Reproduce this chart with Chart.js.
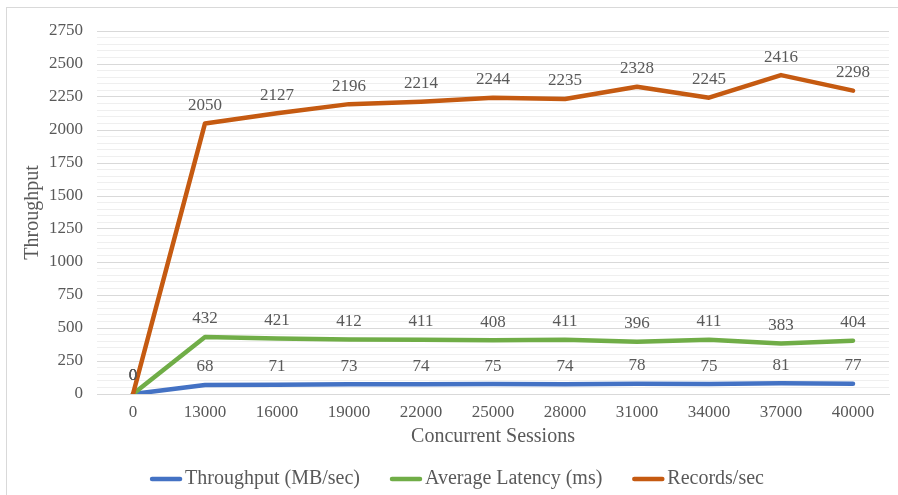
<!DOCTYPE html>
<html>
<head>
<meta charset="utf-8">
<script src="https://cdn.jsdelivr.net/npm/chart.js@4"></script>
<style>
  html, body { margin: 0; padding: 0; background: #fff; }
  #wrap { position: relative; width: 898px; height: 495px; }
  #frame { position: absolute; left: 6px; top: 7px; right: 0; bottom: 0;
           border-top: 1px solid #d9d9d9; border-left: 1px solid #d9d9d9; }
  canvas { position: absolute; left: 0; top: 0; }
</style>
</head>
<body>
<div id="wrap">
  <div id="frame"></div>
  <canvas id="chart" width="898" height="495"></canvas>
</div>
<script>
const sessions = ['0', '13000', '16000', '19000', '22000', '25000', '28000', '31000', '34000', '37000', '40000'];
const throughputMB = [0, 68, 71, 73, 74, 75, 74, 78, 75, 81, 77];
const avgLatency = [0, 432, 421, 412, 411, 408, 411, 396, 411, 383, 404];
const recordsPerSec = [0, 2050, 2127, 2196, 2214, 2244, 2235, 2328, 2245, 2416, 2298];

const FONT = "'Liberation Serif', 'Times New Roman', serif";
const TEXT = '#595959';

// value labels above every point
const pointLabels = {
    id: 'pointLabels',
    afterDatasetsDraw(chart) {
        const ctx = chart.ctx;
        ctx.save();
        ctx.font = '17px ' + FONT;
        ctx.fillStyle = TEXT;
        ctx.textAlign = 'center';
        ctx.textBaseline = 'middle';
        chart.data.datasets.forEach((ds, i) => {
            chart.getDatasetMeta(i).data.forEach((pt, j) => {
                ctx.fillText(String(ds.data[j]), pt.x, pt.y - 18);
            });
        });
        ctx.restore();
    }
};

// legend drawn like the Excel one: long line sample, text right next to it
const lineLegend = {
    id: 'lineLegend',
    afterDraw(chart) {
        const ctx = chart.ctx;
        const sample = 32, gap = 3, spacing = 30;
        ctx.save();
        ctx.font = '20px ' + FONT;
        const items = chart.data.datasets.map(ds => ({
            text: ds.label, color: ds.borderColor, w: ctx.measureText(ds.label).width
        }));
        const total = items.reduce((s, it) => s + sample + gap + it.w, 0) + spacing * (items.length - 1);
        let x = chart.width / 2 + 8 - total / 2;
        const y = 479;
        items.forEach(it => {
            ctx.strokeStyle = it.color;
            ctx.lineWidth = 4.5;
            ctx.lineCap = 'round';
            ctx.beginPath();
            ctx.moveTo(x + 2, y);
            ctx.lineTo(x + sample - 2, y);
            ctx.stroke();
            ctx.fillStyle = TEXT;
            ctx.textAlign = 'left';
            ctx.textBaseline = 'middle';
            ctx.fillText(it.text, x + sample + gap, y);
            x += sample + gap + it.w + spacing;
        });
        ctx.restore();
    }
};

new Chart(document.getElementById('chart'), {
    type: 'line',
    data: {
        labels: sessions,
        datasets: [
            { label: 'Throughput (MB/sec)', data: throughputMB, borderColor: '#4472C4', order: 3 },
            { label: 'Average Latency (ms)', data: avgLatency, borderColor: '#70AD47', order: 2 },
            { label: 'Records/sec', data: recordsPerSec, borderColor: '#C55A11', order: 1 }
        ]
    },
    options: {
        responsive: false,
        animation: false,
        layout: { padding: { left: 17, right: 9, top: 31, bottom: 42 } },
        elements: {
            line: { borderWidth: 4.5, tension: 0, borderCapStyle: 'round', borderJoinStyle: 'round', fill: false },
            point: { radius: 0, hoverRadius: 0 }
        },
        plugins: {
            legend: { display: false },
            tooltip: { enabled: false }
        },
        scales: {
            x: {
                offset: true,
                grid: { display: false, drawTicks: false },
                border: { display: true, color: '#d9d9d9' },
                ticks: { color: TEXT, font: { family: FONT, size: 17 }, padding: 8, maxRotation: 0 },
                title: { display: true, text: 'Concurrent Sessions', color: TEXT, font: { family: FONT, size: 20 } },
                afterFit(scale) { scale.height = 59; }
            },
            y: {
                min: 0,
                max: 2750,
                grid: {
                    drawTicks: false,
                    color: ctx => (ctx.tick && ctx.tick.value % 250 === 0) ? '#d9d9d9' : '#efefef',
                    lineWidth: 1
                },
                border: { display: false },
                ticks: {
                    stepSize: 50,
                    autoSkip: false,
                    padding: 14,
                    color: TEXT,
                    font: { family: FONT, size: 17 },
                    callback: v => (v % 250 === 0 ? String(v) : '')
                },
                title: { display: true, text: 'Throughput', color: TEXT, font: { family: FONT, size: 20 } },
                afterFit(scale) { scale.width = 80; }
            }
        }
    },
    plugins: [pointLabels, lineLegend]
});
</script>
</body>
</html>
